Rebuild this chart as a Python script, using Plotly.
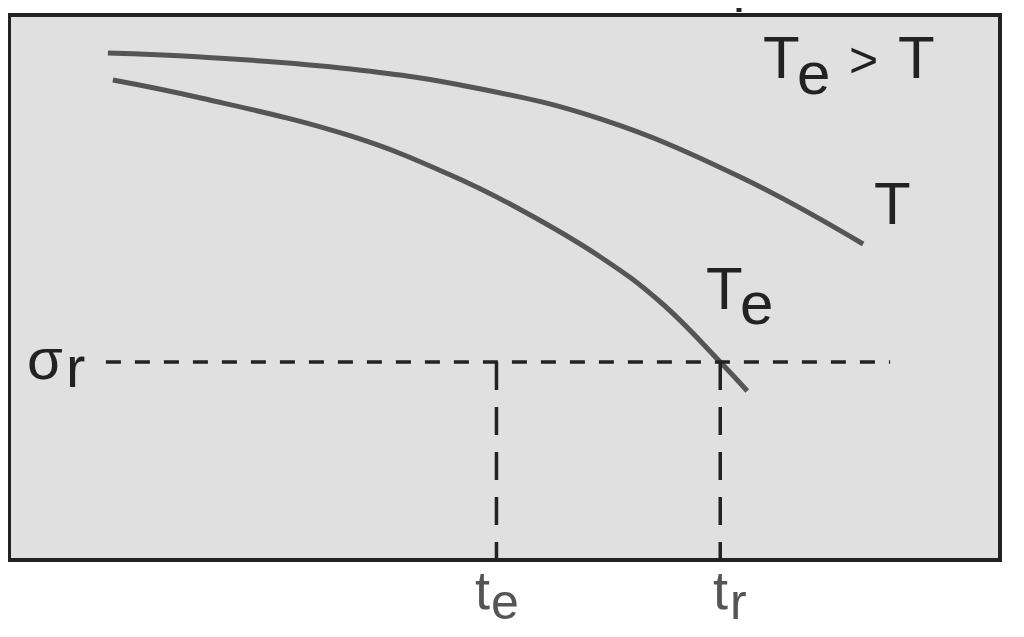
import plotly.graph_objects as go

# ---- data (schematic units: time 0-100 across the box, stress 0-100 up the box) ----
time_T = [9.98, 19.35, 34.48, 47.08, 59.68, 73.79, 86.19]
stress_T = [93.03, 92.29, 90.10, 86.61, 80.92, 70.28, 57.98]

time_Te = [10.48, 19.35, 34.48, 44.56, 51.31, 59.68, 65.73, 71.77, 74.50]
stress_Te = [88.07, 84.77, 77.80, 70.64, 64.59, 55.60, 47.34, 36.33, 31.01]

sigma_r = 36.33          # rupture stress level
t_e = 49.19              # time te
t_r = 71.77              # rupture time tr
sigma_line_x = [9.78, 88.91]

# ---- geometry (page pixels); the page body adds an 8px offset ----
OFF = 8
W, H = 1024 - 2 * OFF, 637 - 2 * OFF
L, R, T, B = 9, 1000, 15, 560

def px(x):
    return (x - L) / (R - L)

def py(y):
    return (B - y) / (B - T)

CURVE = "#555555"
DARK = "#222222"
FONT = "Liberation Sans, Arial, sans-serif"

fig = go.Figure()

fig.add_trace(go.Scatter(x=time_T, y=stress_T, mode="lines",
                         line=dict(color=CURVE, width=5, shape="spline", smoothing=1.2),
                         hoverinfo="skip", showlegend=False))
fig.add_trace(go.Scatter(x=time_Te, y=stress_Te, mode="lines",
                         line=dict(color=CURVE, width=5, shape="spline", smoothing=1.2),
                         hoverinfo="skip", showlegend=False))

# dashed guide lines
fig.add_trace(go.Scatter(x=sigma_line_x, y=[sigma_r, sigma_r], mode="lines",
                         line=dict(color=DARK, width=3.5, dash="15px,14px"),
                         hoverinfo="skip", showlegend=False))
for tx in (t_e, t_r):
    fig.add_trace(go.Scatter(x=[tx, tx], y=[sigma_r, 0], mode="lines",
                             line=dict(color=DARK, width=3.5, dash="28px,17px"),
                             hoverinfo="skip", showlegend=False))

# frame
fig.add_shape(type="rect", xref="paper", yref="paper", x0=0, x1=1, y0=0, y1=1,
              line=dict(color=DARK, width=4), fillcolor="rgba(0,0,0,0)", layer="above")
# small cut-off mark above the frame
fig.add_shape(type="line", xref="paper", yref="paper", x0=px(739), x1=px(739),
              y0=py(12), y1=py(OFF),
              line=dict(color=DARK, width=5))

def label(text, cx, cy, size, color=DARK):
    fig.add_annotation(x=px(cx), y=py(cy), xref="paper", yref="paper", text=text,
                       showarrow=False, xanchor="center", yanchor="middle",
                       font=dict(family=FONT, size=size, color=color))

# "Te > T"
label("T", 781, 58, 60)
label("e", 813, 73, 60)
label(">", 863, 60, 50)
label("T", 916, 58, 60)
# curve labels
label("T", 892, 204, 60)
label("T", 724, 288, 60)
label("e", 756, 303, 60)
# sigma_r
label("σ", 45, 358, 58)
label("r", 75, 366, 58)
# time labels
label("t", 482, 590, 54, "#555555")
label("e", 505, 602, 50, "#555555")
label("t", 720, 590, 54, "#555555")
label("r", 738, 602, 50, "#555555")

fig.update_layout(
    width=W, height=H,
    margin=dict(l=L - OFF, r=W - (R - OFF), t=T - OFF, b=H - (B - OFF), autoexpand=False),
    paper_bgcolor="white", plot_bgcolor="#e0e0e0",
    xaxis=dict(range=[0, 100], visible=False, fixedrange=True),
    yaxis=dict(range=[0, 100], visible=False, fixedrange=True),
    showlegend=False,
)

fig.write_html("out.html")
